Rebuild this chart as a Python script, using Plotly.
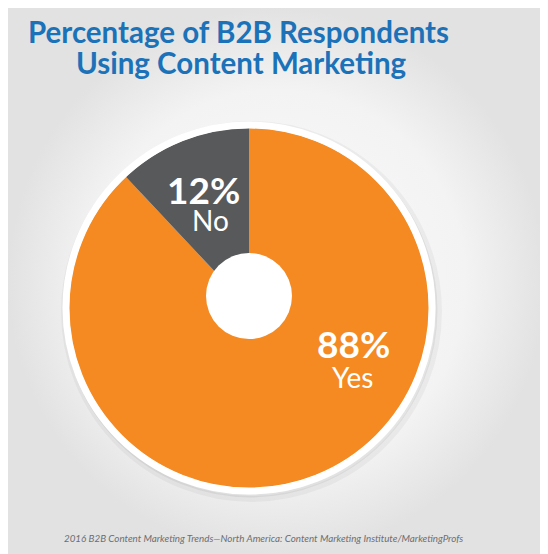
import plotly.graph_objects as go

# data
labels = ["Yes", "No"]
values = [88, 12]
colors = ["#f48a21", "#58595b"]

title_lines = ["Percentage of B2B Respondents", "Using Content Marketing"]
source_text = "2016 B2B Content Marketing Trends\u2014North America: Content Marketing Institute/MarketingProfs"

# the page body adds an 8px margin, so the figure is drawn 8px smaller
OFF = 8
W, H = 548 - OFF, 554 - OFF
cx, cy, r = 249, 308, 180   # pie centre / radius in page px (from top-left)


def fx(x):
    return (x - OFF) / W


def fy(y):
    return 1 - (y - OFF) / H


fig = go.Figure()

# background with a soft radial gradient
fig.add_trace(go.Scatter(
    x=[0, 1, 1, 0, 0], y=[0, 0, 1, 1, 0],
    fill="toself", mode="none", hoverinfo="skip", showlegend=False,
    fillgradient=dict(type="radial", colorscale=[[0, "#fbfbfb"], [0.7, "#f3f3f3"], [1, "#e2e2e2"]]),
))

fig.add_trace(go.Pie(
    labels=labels, values=values,
    marker=dict(colors=colors),
    sort=False, direction="clockwise", rotation=0,
    textinfo="none", hoverinfo="label+percent", showlegend=False,
    domain=dict(x=[fx(cx - r), fx(cx + r)], y=[fy(cy + r), fy(cy - r)]),
))


def box(x0, y0, x1, y1):
    return dict(xref="paper", yref="paper", x0=fx(x0), x1=fx(x1), y0=fy(y1), y1=fy(y0))


shapes = [
    # shadow
    dict(type="circle", layer="above", line=dict(color="rgba(0,0,0,0.04)", width=6),
         **box(cx - r - 5, cy - r - 4, cx + r + 10, cy + r + 11)),
    dict(type="circle", layer="above", line=dict(color="rgba(0,0,0,0.06)", width=3),
         **box(cx - r - 4, cy - r - 3, cx + r + 7, cy + r + 8)),
    # white ring round the pie
    dict(type="circle", layer="above", line=dict(color="white", width=7),
         **box(cx - r - 3, cy - r - 3, cx + r + 3, cy + r + 3)),
    # hole
    dict(type="circle", layer="above", fillcolor="white", line=dict(width=0),
         **box(cx - 43, cy - 55, cx + 43, cy + 31)),
]


def note(x, y, text, font):
    return dict(x=fx(x), y=fy(y), xref="paper", yref="paper", showarrow=False,
                xanchor="center", yanchor="middle", text=text, font=font)


# slice labels: percentage on top, name below
pct_pos = {"No": (203, 190), "Yes": (353, 343)}
name_pos = {"No": (210, 220), "Yes": (352, 377)}
annotations = []
for lab, val in zip(labels, values):
    annotations.append(note(*pct_pos[lab], f"{val}%",
                            dict(family="Lato", size=37, color="white", weight="bold")))
    annotations.append(note(*name_pos[lab], lab,
                            dict(family="Lato", size=28, color="white")))

title_font = dict(family="Lato", size=29.5, color="#1b72b9", weight="bold")
annotations.append(note(238, 32, title_lines[0], title_font))
annotations.append(note(241, 63, title_lines[1], title_font))

annotations.append(note(263, 538, source_text,
                        dict(family="Lato", size=9.8, color="#6d6e71", style="italic")))

fig.update_layout(
    width=W, height=H,
    margin=dict(l=0, r=0, t=0, b=0),
    paper_bgcolor="white", plot_bgcolor="rgba(0,0,0,0)",
    xaxis=dict(range=[0, 1], domain=[0, fx(546)], visible=False, fixedrange=True),
    yaxis=dict(range=[0, 1], visible=False, fixedrange=True),
    shapes=shapes,
    annotations=annotations,
)

fig.write_html("out.html")
